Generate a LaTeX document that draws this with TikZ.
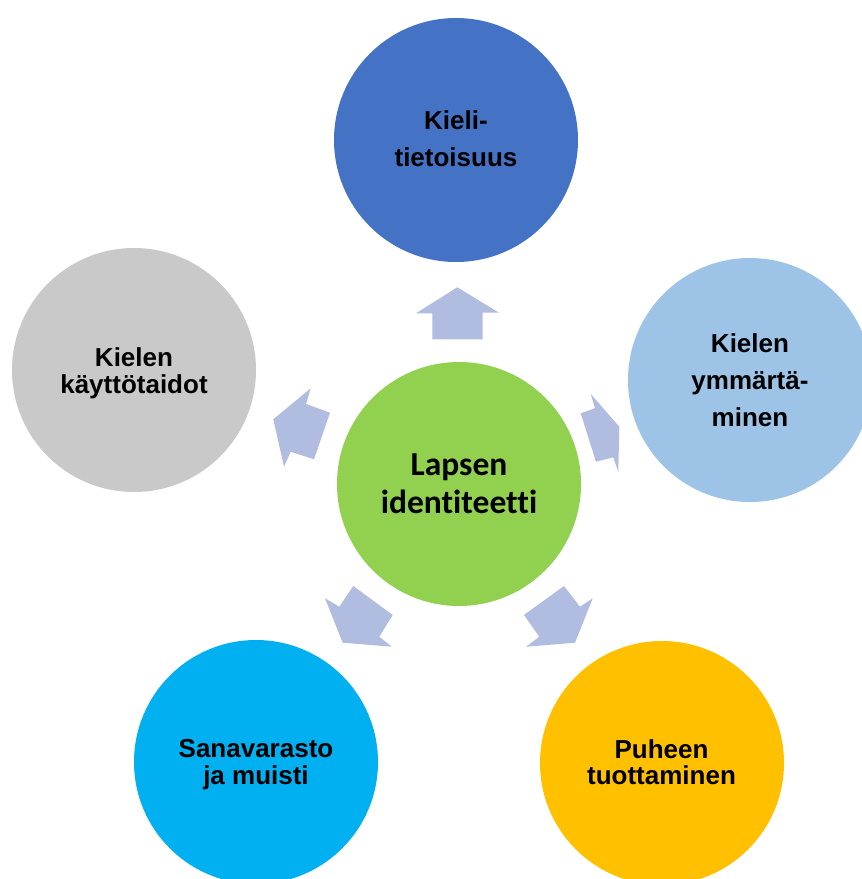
\documentclass[tikz,border=0pt]{standalone}
\usepackage{fontspec}
\setmainfont{Liberation Sans}
\newfontfamily\calfont[Ligatures=NoCommon]{Carlito}
\definecolor{ctop}{RGB}{68,114,196}
\definecolor{cright}{RGB}{157,195,230}
\definecolor{cleft}{RGB}{201,201,201}
\definecolor{ccenter}{RGB}{146,208,80}
\definecolor{cbl}{RGB}{0,176,240}
\definecolor{cbr}{RGB}{255,192,0}
\definecolor{carrow}{RGB}{176,188,224}
\tikzset{
  circ/.style={circle, minimum size=244pt, inner sep=0pt, draw=none},
  lbl/.style={align=center, inner sep=0pt, text=black},
  outerA/.style={lbl, font=\fontsize{26}{26.7}\selectfont\bfseries},
  outerB/.style={lbl, font=\fontsize{26}{37}\selectfont\bfseries},
  centerlbl/.style={lbl, font=\fontsize{33.5}{37.6}\selectfont\calfont\bfseries},
  blockarrow/.style={fill=carrow, draw=none}
}
\begin{document}
\begin{tikzpicture}[x=1pt,y=-1pt]
\useasboundingbox (0,0) rectangle (862,879);
\clip (0,0) rectangle (862,879);
\fill[white] (0,0) rectangle (862,879);
% circles
\node[circ, fill=ctop] (top) at (456,140) {};
\node[circ, fill=cright] (right) at (750,380) {};
\node[circ, fill=cleft] (left) at (134,370) {};
\node[circ, fill=ccenter] (center) at (459,484) {};
\node[circ, fill=cbl] (bl) at (256,762) {};
\node[circ, fill=cbr] (br) at (662,763) {};
% labels
\node[outerB] (toptxt) at (456,138.9) {Kieli-\\tietoisuus};
\node[outerB] (righttxt) at (750,380) {Kielen\\ymmärtä-\\minen};
\node[outerA] (lefttxt) at (134,373.2) {Kielen\\käyttötaidot};
\node[centerlbl] (centertxt) at (459,483.9) {Lapsen\\identiteetti};
\node[outerA] (bltxt) at (256,764.9) {Sanavarasto\\ja muisti};
\node[outerA] (brtxt) at (661.5,762.2) {Puheen\\tuottaminen};
% block arrows
\fill[blockarrow] (457.3,287.3) -- (499,312.7) -- (482.7,312.7) -- (482.7,339.3)
  -- (432.3,339.3) -- (432.3,313.3) -- (416,313.3) -- cycle;
\fill[blockarrow] (619.3,426.7) -- (618.3,471.7) -- (613.3,457.3) -- (596,461.7)
  -- (580.7,413.3) -- (595,408.3) -- (590.7,394) -- cycle;
\fill[blockarrow] (273.3,419.3) -- (310.7,388.3) -- (306,404) -- (330,412.7)
  -- (314,459.3) -- (290.7,451.7) -- (284,466.7) -- cycle;
\fill[blockarrow] (342.7,642.7) -- (325,598.3) -- (339.3,606.7) -- (353.3,586)
  -- (392.7,615) -- (379.3,636.7) -- (391.7,646.7) -- cycle;
\fill[blockarrow] (575,642.7) -- (526,646.7) -- (539.3,636.7) -- (524,615)
  -- (564,586) -- (580,606.7) -- (592.7,598.3) -- cycle;
\end{tikzpicture}
\end{document}
